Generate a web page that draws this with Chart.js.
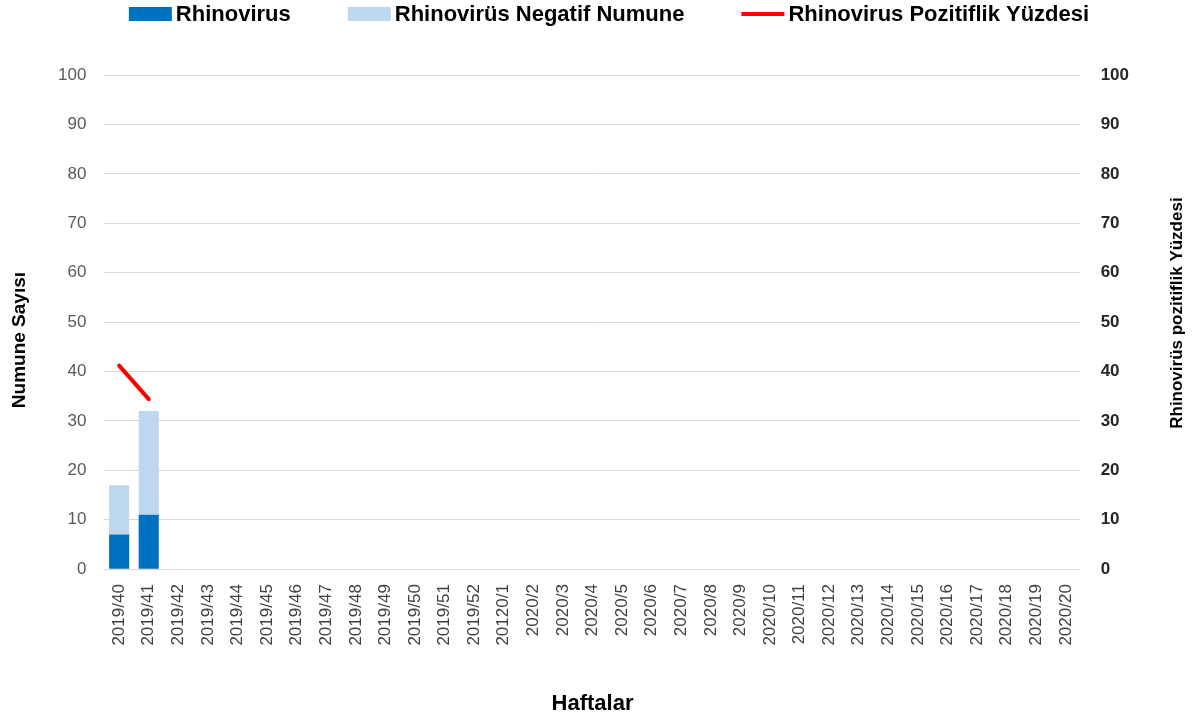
<!DOCTYPE html>
<html>
<head>
<meta charset="utf-8">
<script src="https://cdn.jsdelivr.net/npm/chart.js@4/dist/chart.umd.min.js"></script>
<style>
  html, body { margin: 0; padding: 0; background: #ffffff; }
  #wrap { position: relative; width: 1203px; height: 722px; }
</style>
</head>
<body>
<div id="wrap"><canvas id="c"></canvas></div>
<script>
const weeks = ["2019/40","2019/41","2019/42","2019/43","2019/44","2019/45","2019/46","2019/47","2019/48","2019/49","2019/50","2019/51","2019/52","20120/1","2020/2","2020/3","2020/4","2020/5","2020/6","2020/7","2020/8","2020/9","2020/10","2020/11","2020/12","2020/13","2020/14","2020/15","2020/16","2020/17","2020/18","2020/19","2020/20"];
const rhinovirus = [7, 11];
const negatifNumune = [10, 21];
const pozitiflikYuzdesi = [41.2, 34.4];
const yTicks = [0, 10, 20, 30, 40, 50, 60, 70, 80, 90, 100];

const seriesNames = ["Rhinovirus", "Rhinovirüs Negatif Numune", "Rhinovirus Pozitiflik Yüzdesi"];
const leftTitle = "Numune Sayısı";
const rightTitle = "Rhinovirüs pozitiflik Yüzdesi";
const xTitle = "Haftalar";

const FONT = "'Liberation Sans', Arial, sans-serif";
const DARK = "#0070C0", LIGHT = "#BDD7EE", RED = "#FF0000";

const customLegendAndTitles = {
  id: 'customLegendAndTitles',
  afterDraw(chart) {
    const ctx = chart.ctx;
    const ca = chart.chartArea;
    ctx.save();
    // legend
    ctx.font = "bold 22px " + FONT;
    ctx.textBaseline = "middle";
    ctx.textAlign = "left";
    const boxW = 43, boxH = 14, gapText = 4, gapItem = 57;
    const items = chart.data.datasets.map(d => ({ text: d.label, type: d.type, color: d.type === 'line' ? d.borderColor : d.backgroundColor }));
    let total = 0;
    items.forEach((it, i) => { it.w = ctx.measureText(it.text).width; total += boxW + gapText + it.w + (i < items.length - 1 ? gapItem : 0); });
    let x = 609 - total / 2;
    const cy = 14;
    items.forEach(it => {
      if (it.type === 'line') {
        ctx.strokeStyle = it.color; ctx.lineWidth = 4; ctx.lineCap = 'butt';
        ctx.beginPath(); ctx.moveTo(x, cy); ctx.lineTo(x + boxW, cy); ctx.stroke();
      } else {
        ctx.fillStyle = it.color;
        ctx.fillRect(x, cy - boxH / 2, boxW, boxH);
      }
      ctx.fillStyle = "#000000";
      ctx.fillText(it.text, x + boxW + gapText, cy + 1);
      x += boxW + gapText + it.w + gapItem;
    });
    // axis titles
    const midY = (ca.top + ca.bottom) / 2;
    ctx.textAlign = "center";
    ctx.fillStyle = "#000000";
    ctx.font = "bold 19px " + FONT;
    ctx.save();
    ctx.translate(20, midY + 18);
    ctx.rotate(-Math.PI / 2);
    ctx.fillText(leftTitle, 0, 0);
    ctx.restore();
    ctx.font = "bold 17px " + FONT;
    ctx.save();
    ctx.translate(chart.scales.y1.right - 26, midY - 9);
    ctx.rotate(-Math.PI / 2);
    ctx.fillText(rightTitle, 0, 0);
    ctx.restore();
    ctx.restore();
  }
};

new Chart(document.getElementById('c'), {
  data: {
    labels: weeks,
    datasets: [
      { type: 'bar', label: seriesNames[0], data: rhinovirus, backgroundColor: DARK, yAxisID: 'y', stack: 's', barPercentage: 0.68, categoryPercentage: 1.0, order: 1 },
      { type: 'bar', label: seriesNames[1], data: negatifNumune, backgroundColor: LIGHT, yAxisID: 'y', stack: 's', barPercentage: 0.68, categoryPercentage: 1.0, order: 1 },
      { type: 'line', label: seriesNames[2], data: pozitiflikYuzdesi, borderColor: RED, backgroundColor: RED, borderWidth: 4, pointRadius: 0, tension: 0, borderCapStyle: 'round', yAxisID: 'y1', order: 0 }
    ]
  },
  options: {
    responsive: true,
    maintainAspectRatio: false,
    animation: false,
    layout: { padding: { top: 75, left: 0, right: 0, bottom: 0 } },
    plugins: {
      legend: { display: false },
      tooltip: { enabled: false }
    },
    scales: {
      x: {
        stacked: true,
        grid: { display: false },
        border: { display: false },
        ticks: { color: "#404040", font: { family: FONT, size: 17 }, maxRotation: 90, minRotation: 90, padding: 7, autoSkip: false },
        title: { display: true, text: xTitle, color: "#000000", font: { family: FONT, size: 22, weight: 'bold' }, padding: { top: 38, bottom: 5 } }
      },
      y: {
        position: 'left',
        stacked: true,
        min: 0, max: 100,
        afterBuildTicks: s => { s.ticks = yTicks.map(v => ({ value: v })); },
        afterFit: s => { s.width = s.width + 40; },
        grid: { color: "#D9D9D9", lineWidth: 1, drawTicks: false },
        border: { display: false },
        ticks: { color: "#595959", font: { family: FONT, size: 17 }, padding: 18 }
      },
      y1: {
        position: 'right',
        min: 0, max: 100,
        afterBuildTicks: s => { s.ticks = yTicks.map(v => ({ value: v })); },
        afterFit: s => { s.width = s.width + 54; },
        grid: { display: false, drawTicks: false },
        border: { display: false },
        ticks: { color: "#262626", font: { family: FONT, size: 17, weight: 'bold' }, padding: 20 }
      }
    }
  },
  plugins: [customLegendAndTitles]
});
</script>
</body>
</html>
